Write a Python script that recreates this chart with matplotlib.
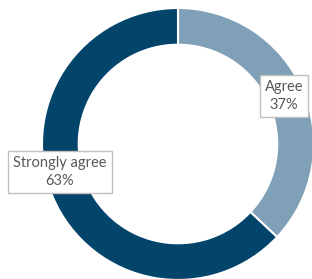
import matplotlib.pyplot as plt

labels = ['Agree', 'Strongly agree']
values = [37, 63]
colors = ['#7fa0b6', '#03456a']
label_pos = [(0.78, 0.352), (-0.868, -0.208)]

fig = plt.figure(figsize=(3.12, 2.79), dpi=100)
ax = fig.add_axes([0.1346, -0.0036, 0.8718, 0.975])

ax.pie(values, colors=colors, startangle=90, counterclock=False, radius=1,
       wedgeprops=dict(width=0.27, edgecolor='white', linewidth=1.5))
ax.set_xlim(-1, 1)
ax.set_ylim(-1, 1)
ax.set_aspect('equal')
ax.axis('off')

for lab, v, (x, y) in zip(labels, values, label_pos):
    ax.text(x, y, f'{lab}\n{v}%', ha='center', va='center', fontsize=10.5,
            family='Lato', color='#595959', linespacing=1.35,
            bbox=dict(boxstyle='square,pad=0.35', facecolor='white', edgecolor='#bfbfbf', linewidth=1))

fig.savefig('out.png', dpi=100)
